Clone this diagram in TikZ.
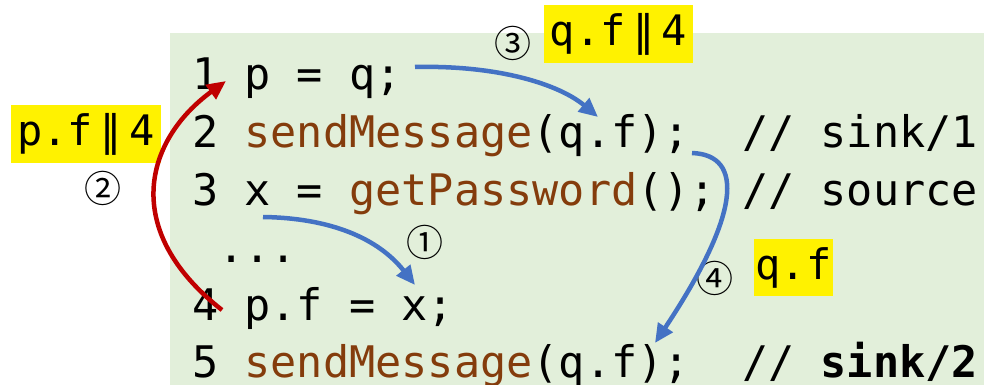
\documentclass[tikz,border=0pt]{standalone}
\usepackage{fontspec}
\usetikzlibrary{arrows.meta}
\newfontfamily\codefont{DejaVu Sans Mono}
\newfontfamily\symfont{DejaVu Sans}
\newfontfamily\cjkfont{Noto Sans CJK SC}
\definecolor{bgreen}{RGB}{226,239,218}
\definecolor{cbrown}{RGB}{132,60,12}
\definecolor{ablue}{RGB}{68,114,196}
\definecolor{ared}{RGB}{192,0,0}
\newcommand{\fn}[1]{\textcolor{cbrown}{#1}}
\newcommand{\dbar}{\makebox[36pt]{\symfont ‖}}
\tikzset{
  codeline/.style={anchor=base west, inner sep=0pt, font=\codefont\fontsize{43.5}{43.5}\selectfont},
  hl/.style={fill=yellow, inner sep=0pt, font=\codefont\fontsize{42}{42}\selectfont},
  circnum/.style={inner sep=0pt, font=\cjkfont\fontsize{37}{37}\selectfont},
  flowb/.style={draw=ablue, line width=4.5pt, -{Triangle[length=19pt,width=17pt]}},
  flowr/.style={draw=ared, line width=4.5pt, -{Triangle[length=19pt,width=17pt]}}
}
\begin{document}
\begin{tikzpicture}[x=1pt,y=-1pt]
\useasboundingbox (0,0) rectangle (984,385);
\fill[bgreen] (170,33) rectangle (984,385);
% code
\node[codeline] (l1) at (192,90) {1 p = q;};
\node[codeline] (l2) at (192,147.5) {2 \fn{sendMessage}(q.f);~~// sink/1};
\node[codeline] (l3) at (192,205) {3 x = \fn{getPassword}(); // source};
\node[codeline] (l0) at (192,262.5) {~...};
\node[codeline] (l4) at (192,320) {4 p.f = x;};
\node[codeline] (l5) at (192,377) {5 \fn{sendMessage}(q.f);~~// \textbf{sink/2}};
% labels
\node[hl, minimum width=150pt, minimum height=58pt] (lab2) at (86,134) {p.f\dbar4};
\node[hl, minimum width=149pt, minimum height=58pt] (lab3) at (618.5,34) {q.f\dbar4};
\node[hl, minimum width=79pt, minimum height=57pt] (lab4) at (793.5,267.5) {q.f};
\node[circnum] (c1) at (425,242) {①};
\node[circnum] (c2) at (103,188) {②};
\node[circnum] (c3) at (513,43) {③};
\node[circnum] (c4) at (715,278) {④};
% arrow endpoints
\coordinate (a1s) at (263,217);
\coordinate (a1e) at (415,285);
\coordinate (a2s) at (222,310);
\coordinate (a2e) at (226,81);
\coordinate (a3s) at (415,67);
\coordinate (a3e) at (598,117);
\coordinate (a4s) at (692,153);
\coordinate (a4e) at (655,343);
\draw[flowb] (a1s) .. controls (330,218) and (378,238) .. (a1e);
\draw[flowr] (a2s) .. controls (120,230) and (145,140) .. (a2e);
\draw[flowb] (a3s) .. controls (500,65) and (560,85) .. (a3e);
\draw[flowb] (a4s) .. controls (745,155) and (740,215) .. (a4e);
\end{tikzpicture}
\end{document}
